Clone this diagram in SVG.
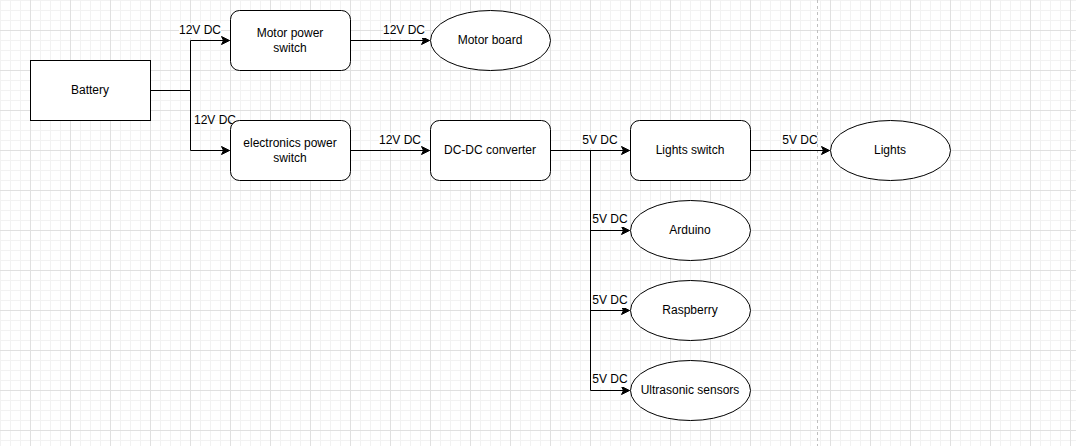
<svg xmlns="http://www.w3.org/2000/svg" width="1076" height="446" viewBox="0 0 1076 446">
<defs>
<pattern id="minor" width="10" height="10" patternUnits="userSpaceOnUse" x="0" y="0">
<path d="M0.5,0 V10 M0,0.5 H10" fill="none" stroke="#f2f2f2" stroke-width="1"/>
</pattern>
<pattern id="major" width="40" height="40" patternUnits="userSpaceOnUse" x="30" y="30">
<path d="M0.5,0 V40 M0,0.5 H40" fill="none" stroke="#e0e0e0" stroke-width="1"/>
</pattern>
<marker id="arrow" viewBox="-9 -5 10 10" refX="0" refY="0" markerWidth="10" markerHeight="10" markerUnits="userSpaceOnUse" orient="auto">
<path d="M0,0 L-8,-4 L-6,0 L-8,4 Z" fill="#000" stroke="#000" stroke-width="1"/>
</marker>
</defs>
<style>
.box{fill:#fff;stroke:#000;stroke-width:1}
.t{font-family:"Liberation Sans",Arial,sans-serif;font-size:12px;fill:#000;text-anchor:middle}
.edge{fill:none;stroke:#000;stroke-width:1;marker-end:url(#arrow)}
.plain{fill:none;stroke:#000;stroke-width:1}
.lblbg{fill:#fff}
</style>
<rect width="1076" height="446" fill="#fff"/>
<rect width="1076" height="446" fill="url(#minor)"/>
<rect width="1076" height="446" fill="url(#major)"/>
<line x1="817.5" y1="0" x2="817.5" y2="446" stroke="#c0c0c0" stroke-width="1" stroke-dasharray="3,3"/>

<g id="connectors">
<path class="plain" d="M150.5,90.5 H190.5"/>
<path class="edge" d="M190.5,90.5 V40.5 H229.5"/>
<path class="edge" d="M190.5,90.5 V150.5 H229.5"/>
<path class="edge" d="M350.5,40.5 H429.5"/>
<path class="edge" d="M350.5,150.5 H429.5"/>
<path class="edge" d="M550.5,150.5 H629.5"/>
<path class="edge" d="M750.5,150.5 H829.5"/>
<path class="edge" d="M590.5,150.5 V230.5 H629.5"/>
<path class="edge" d="M590.5,150.5 V310.5 H629.5"/>
<path class="edge" d="M590.5,150.5 V390.5 H629.5"/>
<g id="edge-labels">
<rect class="lblbg" x="179" y="23" width="42" height="15"/>
<text class="t" x="200" y="34">12V DC</text>
<rect class="lblbg" x="194" y="112" width="42" height="8"/>
<text class="t" x="215" y="124">12V DC</text>
<rect class="lblbg" x="383" y="23" width="42" height="15"/>
<text class="t" x="404" y="34">12V DC</text>
<rect class="lblbg" x="379" y="133" width="42" height="15"/>
<text class="t" x="400" y="144">12V DC</text>
<rect class="lblbg" x="581" y="133" width="38" height="15"/>
<text class="t" x="600" y="144">5V DC</text>
<rect class="lblbg" x="781" y="133" width="36" height="15"/>
<text class="t" x="800" y="144">5V DC</text>
<rect class="lblbg" x="591" y="212" width="38" height="15"/>
<text class="t" x="610" y="223">5V DC</text>
<rect class="lblbg" x="591" y="293" width="38" height="15"/>
<text class="t" x="610" y="304">5V DC</text>
<rect class="lblbg" x="591" y="372" width="38" height="15"/>
<text class="t" x="610" y="383">5V DC</text>
</g>
</g>

<g id="battery">
<rect class="box" x="30.5" y="60.5" width="120" height="60"/>
<text class="t" x="90" y="94">Battery</text>
</g>
<g id="motor-power-switch">
<rect class="box" x="230.5" y="10.5" width="120" height="60" rx="9" ry="9"/>
<text class="t" x="290" y="37">Motor power</text>
<text class="t" x="290" y="51.5">switch</text>
</g>
<g id="motor-board">
<ellipse class="box" cx="490.5" cy="40.5" rx="60" ry="30"/>
<text class="t" x="490" y="44">Motor board</text>
</g>
<g id="electronics-power-switch">
<rect class="box" x="230.5" y="120.5" width="120" height="60" rx="9" ry="9"/>
<text class="t" x="290" y="147">electronics power</text>
<text class="t" x="290" y="161.5">switch</text>
</g>
<g id="dc-dc-converter">
<rect class="box" x="430.5" y="120.5" width="120" height="60" rx="9" ry="9"/>
<text class="t" x="490" y="154">DC-DC converter</text>
</g>
<g id="lights-switch">
<rect class="box" x="630.5" y="120.5" width="120" height="60" rx="9" ry="9"/>
<text class="t" x="690" y="154">Lights switch</text>
</g>
<g id="lights">
<ellipse class="box" cx="890.5" cy="150.5" rx="60" ry="30"/>
<text class="t" x="890" y="154">Lights</text>
</g>
<g id="arduino">
<ellipse class="box" cx="690.5" cy="230.5" rx="60" ry="30"/>
<text class="t" x="690" y="234">Arduino</text>
</g>
<g id="raspberry">
<ellipse class="box" cx="690.5" cy="310.5" rx="60" ry="30"/>
<text class="t" x="690" y="314">Raspberry</text>
</g>
<g id="ultrasonic-sensors">
<ellipse class="box" cx="690.5" cy="390.5" rx="60" ry="30"/>
<text class="t" x="690" y="394">Ultrasonic sensors</text>
</g>
</svg>
